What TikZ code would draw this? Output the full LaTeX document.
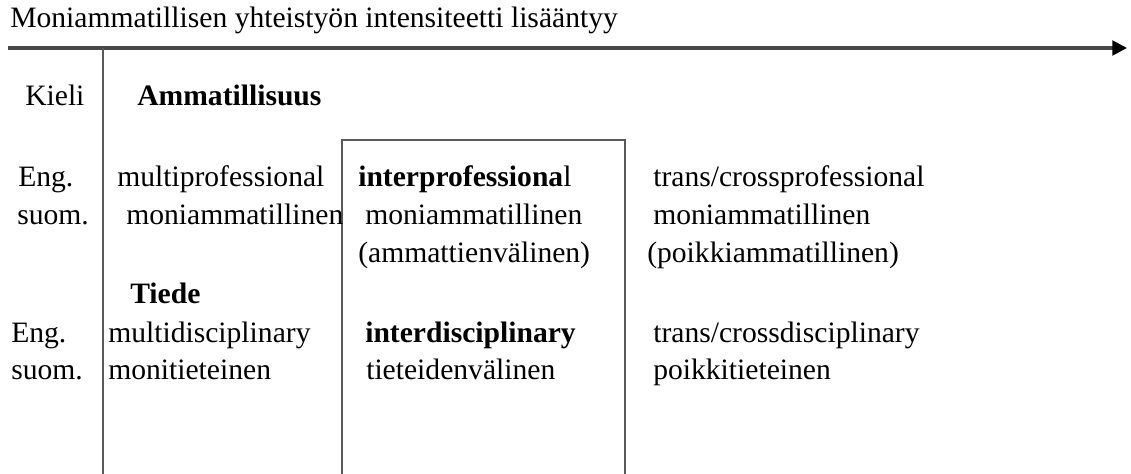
\documentclass[tikz,border=0pt]{standalone}
\usepackage{fontspec}
\setmainfont{Liberation Serif}
\usetikzlibrary{arrows.meta}

\begin{document}
\begin{tikzpicture}[x=0.75pt,y=0.75pt,yscale=-1,xscale=1,
  lbl/.style={anchor=base west, inner sep=0pt, font=\fontsize{22.2}{26}\selectfont},
  rule/.style={draw=black!65, line width=1.3pt}]
\useasboundingbox (0,0) rectangle (1131,474);

%Coordinates
\coordinate (axisL) at (8,48);
\coordinate (axisR) at (1127,48);
\coordinate (divT) at (103,48);
\coordinate (divB) at (103,474);
\coordinate (boxBL) at (342,474);
\coordinate (boxTL) at (342,140);
\coordinate (boxTR) at (625,140);
\coordinate (boxBR) at (625,474);

%Straight Lines
\draw [draw=black!72, line width=2.3pt, -{Triangle[length=11pt,width=11pt,color=black]}] (axisL) -- (axisR);
%Straight Lines
\draw [rule] (divT) -- (divB);
%Box
\draw [rule] (boxBL) -- (boxTL) -- (boxTR) -- (boxBR);

% Text Node
\node (title) [lbl] at (10,28) {Moniammatillisen yhteistyön intensiteetti lisääntyy};
% Text Node
\node (kieli) [lbl] at (25,106) {Kieli};
% Text Node
\node (ammat) [lbl] at (137,106) {\textbf{Ammatillisuus}};
% Text Node
\node (engA) [lbl] at (18,186) {Eng.};
% Text Node
\node (suomA) [lbl] at (17,224) {suom.};
% Text Node
\node (multiprof) [lbl] at (117,186) {multiprofessional};
% Text Node
\node (moniA) [lbl] at (126,224) {moniammatillinen};
% Text Node
\node (interprof) [lbl] at (358,186) {\textbf{interprofessiona}l};
% Text Node
\node (moniB) [lbl] at (365,224) {moniammatillinen};
% Text Node
\node (ammvali) [lbl] at (358,262) {(ammattienvälinen)};
% Text Node
\node (transprof) [lbl] at (653,186) {trans/crossprofessional};
% Text Node
\node (moniC) [lbl] at (653,224) {moniammatillinen};
% Text Node
\node (poikkiam) [lbl] at (647,262) {(poikkiammatillinen)};
% Text Node
\node (tiede) [lbl] at (130,303) {\textbf{Tiede}};
% Text Node
\node (engB) [lbl] at (11,342) {Eng.};
% Text Node
\node (suomB) [lbl] at (11,379) {suom.};
% Text Node
\node (multidis) [lbl] at (108,342) {multidisciplinary};
% Text Node
\node (monitiet) [lbl] at (108,379) {monitieteinen};
% Text Node
\node (interdis) [lbl] at (365,342) {\textbf{interdisciplinary}};
% Text Node
\node (tietvali) [lbl] at (366,379) {tieteidenvälinen};
% Text Node
\node (transdis) [lbl] at (653,342) {trans/crossdisciplinary};
% Text Node
\node (poikkitiet) [lbl] at (653,379) {poikkitieteinen};

\end{tikzpicture}
\end{document}
